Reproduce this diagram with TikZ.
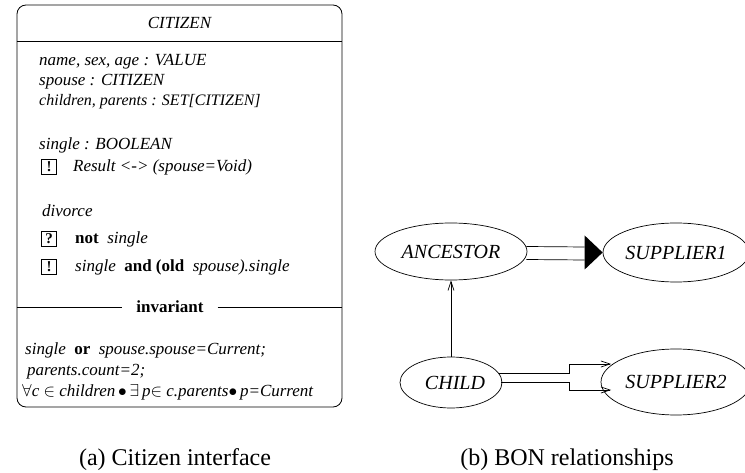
\documentclass[tikz,border=0pt]{standalone}
\usepackage{fontspec}
\setmainfont{Liberation Serif}
\usetikzlibrary{shapes.geometric,arrows.meta,calc}
\tikzset{
  body/.style={font=\fontsize{17}{20}\selectfont\itshape, anchor=west, inner sep=0pt, text height=12pt, text depth=3pt},
  tagbox/.style={draw, line width=0.7pt, minimum size=15pt, inner sep=0pt, font=\fontsize{15}{16}\selectfont\bfseries},
  bon/.style={ellipse, draw, line width=0.7pt, inner sep=0pt, font=\fontsize{20}{22}\selectfont\itshape},
  captext/.style={font=\fontsize{24}{26}\selectfont, anchor=base, inner sep=0pt},
  conn/.style={line width=0.7pt},
  barb/.style={-{Straight Barb[length=9pt,width=6pt,line width=0.7pt]}}
}
\begin{document}
\begin{tikzpicture}[x=1pt,y=-1pt]
\useasboundingbox (0,0) rectangle (745,473);
% ---- (a) Citizen interface ----
\node[draw, line width=0.8pt, rounded corners=9pt, minimum width=325pt, minimum height=402pt, inner sep=0pt] (citizen) at (179.5,206) {};
\node[font=\fontsize{17}{20}\selectfont\itshape, inner sep=0pt] (title) at (179.5,23) {CITIZEN};
\coordinate (rule) at (0,41);
\draw[line width=0.8pt] (citizen.west |- rule) -- (citizen.east |- rule);
\node[body] (l1) at (39,61) {name, sex, age : VALUE};
\node[body] (l2) at (39,81) {spouse : CITIZEN};
\node[body, font=\fontsize{16}{20}\selectfont\itshape] (l3) at (39,101) {children, parents : SET[CITIZEN]};
\node[body] (l4) at (39,145) {single : BOOLEAN};
\node[tagbox] (t1) at (49,167) {!};
\node[body] (l5) at (73,167) {Result <-> (spouse=Void)};
\node[body] (l6) at (42,212) {divorce};
\node[tagbox] (t2) at (49,239) {?};
\node[body] (l7) at (75,239) {\textup{\textbf{not}}\ \ single};
\node[tagbox] (t3) at (49,267) {!};
\node[body] (l8) at (75,267) {single\ \ \textup{\textbf{and (old}}\ \ spouse).single};
\node[font=\fontsize{17}{20}\selectfont\bfseries, inner xsep=14pt, inner ysep=0pt] (inv) at (170,307) {invariant};
\draw[line width=0.8pt] (citizen.west |- inv) -- (inv.west);
\draw[line width=0.8pt] (inv.east) -- (citizen.east |- inv);
\node[body] (l9) at (25,350) {single\ \ \textup{\textbf{or}}\ \ spouse.spouse=Current;};
\node[body] (l10) at (27,371) {parents.count=2;};
\node[body] (l11) at (22,392) {$\forall$c $\in$ children\,$\bullet$\,$\exists$\,p$\in$ c.parents$\bullet$\,p=Current};
% ---- (b) BON relationships ----
\node[bon, minimum width=152pt, minimum height=57pt] (anc) at (451,251.5) {ANCESTOR};
\node[bon, minimum width=146pt, minimum height=59pt] (sup1) at (676,252.5) {SUPPLIER1\hspace{6pt}};
\node[bon, minimum width=102pt, minimum height=51pt] (child) at (451,382.5) {\hspace{8pt}CHILD};
\node[bon, minimum width=150pt, minimum height=66pt] (sup2) at (676,382) {SUPPLIER2\hspace{6pt}};
% inheritance
\draw[conn, barb] (child.north) -- (anc.south);
% aggregation ANCESTOR -> SUPPLIER1
\coordinate (tipA) at (sup1.west);
\coordinate (baseA) at ($(tipA)+(-18,0)$);
\draw[conn] ($(anc.east)+(-1,-5)$) -- (baseA |- 0,247);
\draw[conn] ($(anc.east)+(-1,8)$) -- (baseA |- 0,260);
\fill (tipA) -- ($(baseA)+(0,-17)$) -- ($(baseA)+(0,17)$) -- cycle;
% association CHILD -> SUPPLIER2
\coordinate (bk) at (569,377.5);
\coordinate (e1) at (611,364);
\coordinate (e2) at (611,390);
\draw[conn] ($(child.east)+(-3,-9.5)$) -- (bk |- 0,373) -- (bk |- e1);
\draw[conn, barb] (bk |- e1) -- (e1);
\draw[conn] ($(child.east)+(-1,-0.5)$) -- (bk |- 0,382) -- (bk |- e2);
\draw[conn, barb] (bk |- e2) -- (e2);
% captions
\node[captext] (capa) at (175,465) {(a) Citizen interface};
\node[captext] (capb) at (567,465) {(b) BON relationships};
\end{tikzpicture}
\end{document}
